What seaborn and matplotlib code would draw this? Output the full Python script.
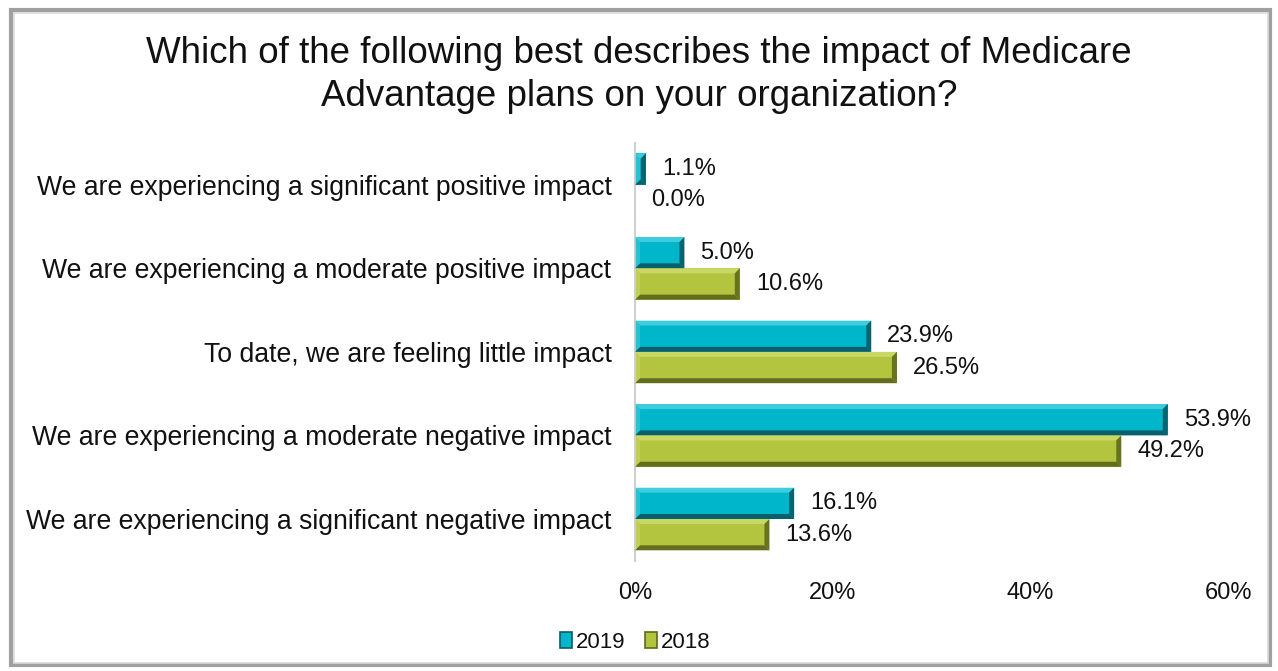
import numpy as np
import pandas as pd
import matplotlib
matplotlib.use("Agg")
import matplotlib.pyplot as plt
from matplotlib.patches import Polygon, Rectangle, Patch
import seaborn as sns

categories = [
    "We are experiencing a significant positive impact",
    "We are experiencing a moderate positive impact",
    "To date, we are feeling little impact",
    "We are experiencing a moderate negative impact",
    "We are experiencing a significant negative impact",
]
values_2019 = [1.1, 5.0, 23.9, 53.9, 16.1]
values_2018 = [0.0, 10.6, 26.5, 49.2, 13.6]
years = ["2019", "2018"]
x_ticks = [0, 20, 40, 60]

title = "Which of the following best describes the impact of Medicare\nAdvantage plans on your organization?"

face = {"2019": "#00B6CA", "2018": "#B3C43E"}
light = {"2019": "#4FD3E2", "2018": "#CFDC6E"}
dark = {"2019": "#0A5A66", "2018": "#5E6A1C"}

df = pd.DataFrame({
    "category": categories * 2,
    "value": values_2019 + values_2018,
    "year": [years[0]] * len(categories) + [years[1]] * len(categories),
})

sns.set_theme(style="white")
plt.rcParams["font.family"] = ["Liberation Sans", "DejaVu Sans"]

fig = plt.figure(figsize=(12.78, 6.71), dpi=100)
ax = fig.add_axes([0.4969, 0.1643, 0.4640, 0.6226])

sns.barplot(data=df, y="category", x="value", hue="year", orient="h",
            palette=face, width=0.75, ax=ax, legend=False,
            order=categories, hue_order=years, saturation=1)

ax.set_xlim(0, 60)
ax.set_ylim(4.5, -0.5)
ax.set_xticks(x_ticks)
ax.set_xticklabels([f"{t}%" for t in x_ticks], fontsize=17, color="#111111")
ax.tick_params(axis="x", length=0, pad=15)
ax.tick_params(axis="y", length=0, pad=17, labelsize=19.2, labelcolor="#111111")
ax.set_xlabel("")
ax.set_ylabel("")
for side in ["top", "right", "bottom"]:
    ax.spines[side].set_visible(False)
ax.spines["left"].set_color("#D0D0D0")
ax.spines["left"].set_linewidth(1.5)

# bevelled bar edges and value labels
fig.canvas.draw()
inv = ax.transData.inverted()
bevel = 5.0
all_values = values_2019 + values_2018
bars = [p for p in ax.patches if isinstance(p, Rectangle)]
for i, p in enumerate(bars):
    yr = years[0] if i < len(categories) else years[1]
    val = all_values[i]
    x0, y0 = p.get_x(), p.get_y()
    w, h = p.get_width(), p.get_height()
    p.set_edgecolor("none")
    (dx0, dy0) = ax.transData.transform((x0, y0))
    (dx1, dy1) = ax.transData.transform((x0 + w, y0 + h))
    left, right = min(dx0, dx1), max(dx0, dx1)
    bot, top = min(dy0, dy1), max(dy0, dy1)
    if right - left > 1:
        b = min(bevel, (right - left) / 2)
        polys = [
            ([(left, top), (right, top), (right - b, top - b), (left + b, top - b)], light[yr], 0.8),
            ([(left, bot), (right, bot), (right - b, bot + b), (left + b, bot + b)], dark[yr], 0.95),
            ([(left, bot), (left, top), (left + b, top - b), (left + b, bot + b)], light[yr], 0.45),
            ([(right, bot), (right, top), (right - b, top - b), (right - b, bot + b)], dark[yr], 0.9),
        ]
        for pts, col, a in polys:
            data_pts = inv.transform(pts)
            ax.add_patch(Polygon(data_pts, closed=True, facecolor=col,
                                 edgecolor="none", alpha=a, zorder=3))
    yc = y0 + h / 2
    ax.annotate(f"{val:.1f}%", xy=(val, yc), xytext=(16, 0),
                textcoords="offset pixels",
                va="center", ha="left", fontsize=17, color="#111111",
                annotation_clip=False)

fig.suptitle(title, x=0.5, y=0.888, fontsize=26.5, color="#111111",
             linespacing=1.32, va="center")

# legend
handles = [Patch(facecolor=face[y], edgecolor=dark[y], linewidth=1.2, label=y) for y in years]
fig.legend(handles=handles, loc="center", bbox_to_anchor=(0.497, 0.043),
           ncol=2, frameon=False, fontsize=16, handlelength=0.55, handleheight=0.7,
           handletextpad=0.15, columnspacing=0.9, labelcolor="#111111")

# chart frame
fig.add_artist(Rectangle((11 / 1278, 6 / 671), 1259 / 1278, 655 / 671,
                         transform=fig.transFigure, fill=False,
                         edgecolor="#A0A0A0", linewidth=3))
fig.add_artist(Rectangle((13.5 / 1278, 8.5 / 671), 1254 / 1278, 650 / 671,
                         transform=fig.transFigure, fill=False,
                         edgecolor="#DADADA", linewidth=1.2))

fig.savefig("out.png", dpi=100, facecolor="white")
